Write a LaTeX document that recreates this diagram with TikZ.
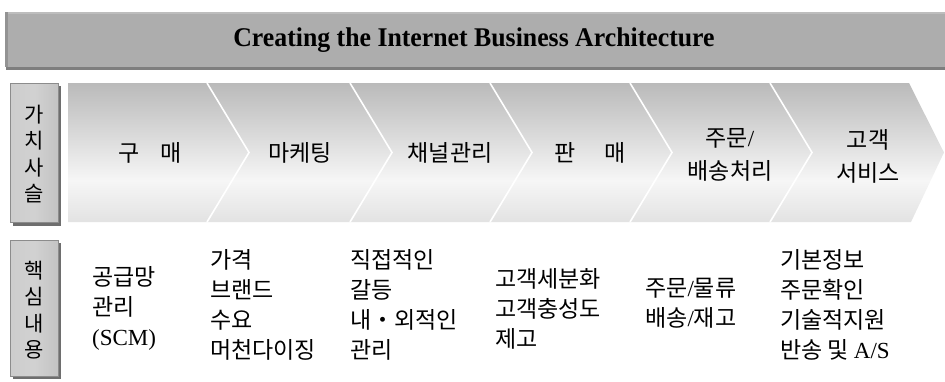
\documentclass[tikz,border=0pt]{standalone}
\usepackage{fontspec}
\usepackage{graphicx}
\setmainfont{Noto Sans CJK KR}
\newfontfamily\lat{Liberation Serif}
\definecolor{titlegray}{HTML}{ADADAD}
\definecolor{titleshadow}{HTML}{7E7E7E}
\definecolor{boxgray}{HTML}{BEBEBE}
\definecolor{boxedge}{HTML}{8C8C8C}
\definecolor{boxshadow}{HTML}{6E6E6E}
\definecolor{ctop}{HTML}{909090}
\definecolor{cmid1}{HTML}{D0D0D0}
\definecolor{cmid2}{HTML}{F6F6F6}
\definecolor{cmid3}{HTML}{DCDCDC}
\definecolor{cbot}{HTML}{8A8A8A}
\pgfdeclareverticalshading{chev}{100bp}{color(0bp)=(cbot); color(20bp)=(cmid3); color(40bp)=(cmid2); color(62bp)=(cmid1); color(100bp)=(ctop)}
\pgfdeclarehorizontalshading{lbox}{100bp}{color(0bp)=(boxgray!85!white); color(50bp)=(boxgray!70!white); color(100bp)=(boxgray!95!black)}
\tikzset{
  ctext/.style={font=\fontsize{23}{33}\selectfont, align=center, inner sep=0pt},
  ltext/.style={font=\fontsize{23}{30}\selectfont, align=left, anchor=west, inner sep=0pt},
  vlabel/.style={font=\fontsize{21}{26.5}\selectfont, align=center, inner sep=0pt},
  sep/.style={draw=white, line width=1.6pt},
  labelbox/.style={shading=lbox, draw=boxedge, line width=0.6pt},
}
\begin{document}
\begin{tikzpicture}[x=1pt,y=-1pt]
\useasboundingbox (0,0) rectangle (945,381);
% title bar
\fill[titleshadow] (6,15) rectangle (945,70);
\fill[titlegray] (5,12) rectangle (945,67);
\fill[titlegray!80!white] (5,12) rectangle (945,14);
\fill[titlegray!85!black] (5,12) rectangle (8,67);
\node[font=\fontsize{27}{30}\lat\bfseries, inner sep=0pt] (title) at (474,40) {\scalebox{0.955}[1]{Creating the Internet Business Architecture}};
% value chain label box
\fill[boxshadow] (13,86) rectangle (61,226);
\path[labelbox] (10,83) rectangle (58,222);
\node[vlabel] (vc) at (34,154) {가\\치\\사\\슬};
% core content label box
\fill[boxshadow] (13,243) rectangle (61,379);
\path[labelbox] (10,240) rectangle (58,376);
\node[vlabel] (core) at (34,310) {핵\\심\\내\\용};
% chevron band
\path[shading=chev] (68,83) -- (909,83) -- (944,152.5) -- (911,222) -- (68,222) -- cycle;
\foreach \b in {207,350,490,630,770}{
  \draw[sep] (\b,83) -- (\b+42,152.5) -- (\b,222);
}
\node[ctext] (c1) at (150,153) {구\hspace{0.9em}매};
\node[ctext] (c2) at (300,153) {마케팅};
\node[ctext] (c3) at (450,153) {채널관리};
\node[ctext] (c4) at (590,153) {판\hspace{1.25em}매};
\node[ctext] (c5) at (730,155) {주문{\lat/}\\배송처리};
\node[ctext] (c6) at (868,156) {고객\\서비스};
% core contents
\node[ltext] (k1) at (92,308) {공급망\\관리\\{\lat(SCM)}};
\node[ltext] (k2) at (210,305) {가격\\브랜드\\수요\\머천다이징};
\node[ltext] (k3) at (350,305) {직접적인\\갈등\\내・외적인\\관리};
\node[ltext] (k4) at (495,309) {고객세분화\\고객충성도\\제고};
\node[ltext] (k5) at (645,303) {주문{\lat/}물류\\배송{\lat/}재고};
\node[ltext] (k6) at (780,305) {기본정보\\주문확인\\기술적지원\\반송 및 {\lat A/S}};
\end{tikzpicture}
\end{document}
